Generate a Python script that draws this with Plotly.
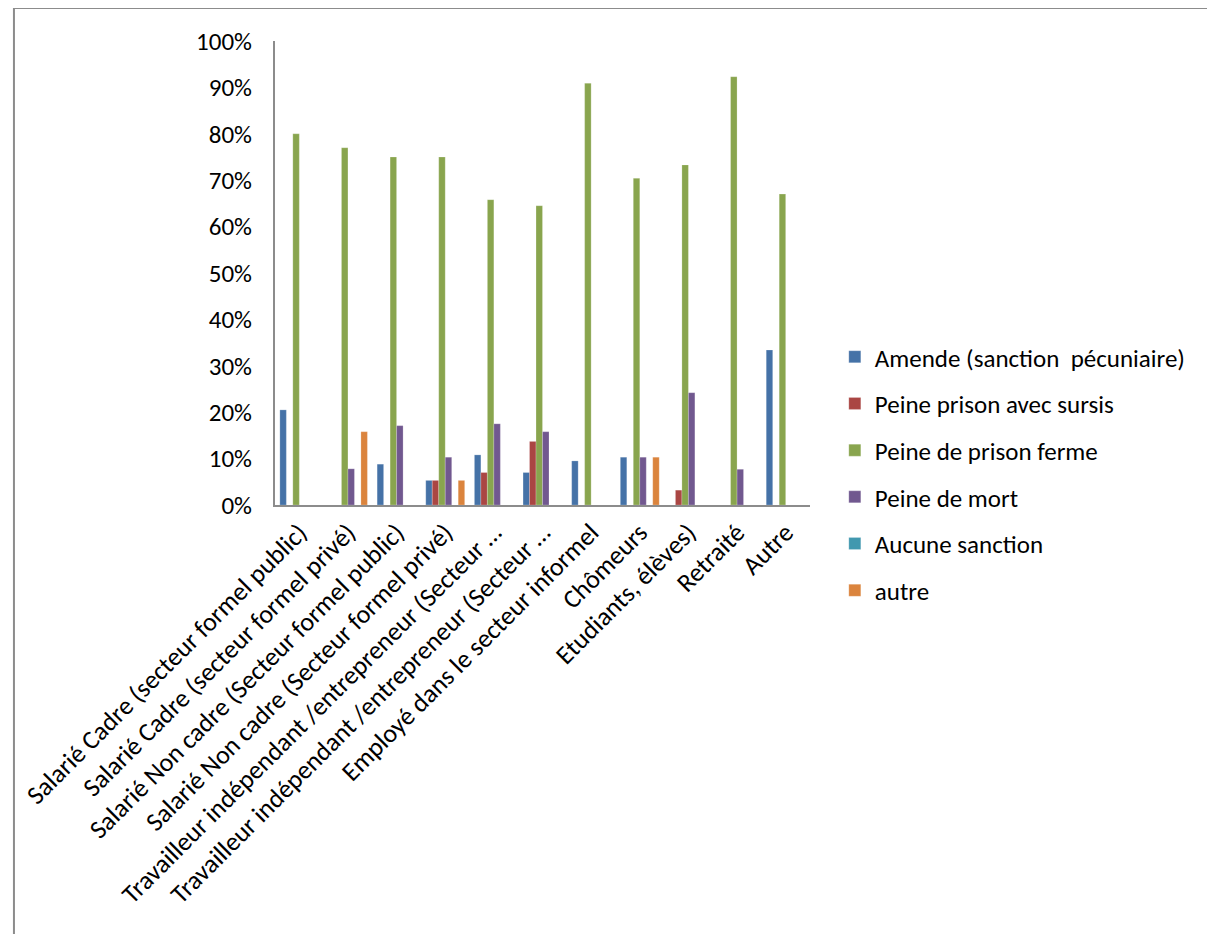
import plotly.graph_objects as go

categories = [
    "Salarié Cadre (secteur formel public)",
    "Salarié Cadre (secteur formel privé)",
    "Salarié Non cadre (Secteur formel public)",
    "Salarié Non cadre (Secteur formel privé)",
    "Travailleur indépendant /entrepreneur (Secteur …",
    "Travailleur indépendant /entrepreneur (Secteur …",
    "Employé dans le secteur informel",
    "Chômeurs",
    "Etudiants, élèves)",
    "Retraité",
    "Autre",
]
# x positions as unique keys (two categories share the same truncated label)
cat_keys = list(range(len(categories)))

amende = [0.205, None, 0.088, 0.053, 0.108, 0.070, 0.095, 0.103, None, None, 0.334]
sursis = [None, None, None, 0.053, 0.070, 0.137, None, None, 0.032, None, None]
ferme = [0.800, 0.770, 0.750, 0.750, 0.658, 0.645, 0.909, 0.704, 0.733, 0.923, 0.670]
mort = [None, 0.078, 0.171, 0.103, 0.175, 0.158, None, 0.103, 0.242, 0.077, None]
aucune = [None, None, None, None, None, None, None, None, None, None, None]
autre = [None, 0.158, None, 0.053, None, None, None, 0.103, None, None, None]

series = [
    ("Amende (sanction  pécuniaire)", amende, "#4572A7"),
    ("Peine prison avec sursis", sursis, "#AA4643"),
    ("Peine de prison ferme", ferme, "#89A54E"),
    ("Peine de mort", mort, "#71588F"),
    ("Aucune sanction", aucune, "#4198AF"),
    ("autre", autre, "#DB843D"),
]

FONT = "Carlito, Lato, 'Open Sans', sans-serif"
FS_LEG = 25
FS_AX = 26

fig = go.Figure()
for i, (name, vals, color) in enumerate(series):
    fig.add_trace(go.Bar(
        x=cat_keys, y=vals, name=name, legendgroup=f"g{i}",
        marker=dict(color=color, line=dict(color="rgba(255,255,255,0.35)", width=0.6)),
    ))

OFF = 8  # page body margin
L, R, T, B = 271 - OFF, 810 - OFF, 41 - OFF, 505 - OFF
W, H = 1215, 934

fig.update_layout(
    width=W, height=H,
    margin=dict(l=L, r=W - R, t=T, b=H - B, pad=0),
    paper_bgcolor="white", plot_bgcolor="white",
    barmode="group", bargap=0.2, bargroupgap=0,
    font=dict(family=FONT, size=FS_LEG, color="black"),
    showlegend=True,
    legend=dict(
        x=(835 - OFF - L) / (R - L), y=(B - (334 - OFF)) / (B - T), xanchor="left", yanchor="top",
        font=dict(family=FONT, size=FS_LEG, color="black"),
        traceorder="grouped", tracegroupgap=11.2,
        itemwidth=30, bgcolor="rgba(0,0,0,0)",
    ),
    xaxis=dict(
        tickmode="array", tickvals=cat_keys, ticktext=categories,
        tickangle=-45, showline=True, linecolor="#8c8c8c", linewidth=2,
        ticks="", showgrid=False, zeroline=False,
        range=[-0.5, len(categories) - 0.5],
        tickfont=dict(family=FONT, size=FS_AX, color="black"),
    ),
    yaxis=dict(
        range=[0, 1], dtick=0.1, tickformat=".0%",
        showline=True, linecolor="#8c8c8c", linewidth=2,
        ticks="", showgrid=False, zeroline=False,
        ticklabelstandoff=16,
        tickfont=dict(family=FONT, size=FS_AX - 1, color="black"),
    ),
    shapes=[dict(
        type="rect", xref="paper", yref="paper",
        x0=(8 - OFF - L) / (R - L), x1=(1400 - L) / (R - L),
        y0=(B - 1100) / (B - T), y1=(B - (8 - OFF)) / (B - T),
        line=dict(color="#8c8c8c", width=2), fillcolor="rgba(0,0,0,0)", layer="below",
    )],
)

fig.write_html("out.html")
